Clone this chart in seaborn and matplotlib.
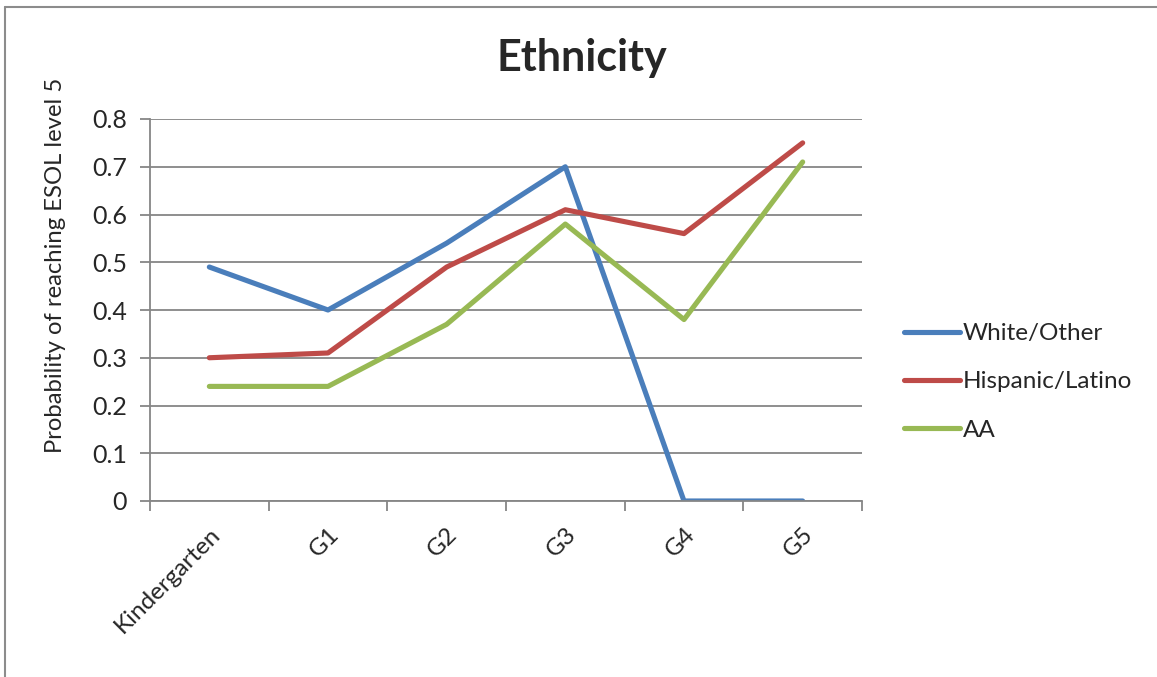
import matplotlib
matplotlib.use("Agg")
import matplotlib.pyplot as plt
from matplotlib.lines import Line2D
import seaborn as sns
import pandas as pd

grades = ["Kindergarten", "G1", "G2", "G3", "G4", "G5"]
white_other = [0.49, 0.40, 0.54, 0.70, 0.0, 0.0]
hispanic_latino = [0.30, 0.31, 0.49, 0.61, 0.56, 0.75]
aa = [0.24, 0.24, 0.37, 0.58, 0.38, 0.71]
series_names = ["White/Other", "Hispanic/Latino", "AA"]
y_ticks = [0, 0.1, 0.2, 0.3, 0.4, 0.5, 0.6, 0.7, 0.8]

colors = ["#4A7EBB", "#BE4B48", "#98B954"]
grid_color = "#868686"

rows = []
for name, vals in zip(series_names, [white_other, hispanic_latino, aa]):
    for g, v in zip(grades, vals):
        rows.append({"Grade": g, "Probability": v, "Group": name})
df = pd.DataFrame(rows)

sns.set_style("white")
plt.rcParams["font.family"] = ["Lato", "DejaVu Sans"]

fig = plt.figure(figsize=(11.57, 6.77), dpi=100)
W, H = 1157, 677
ax = fig.add_axes([150 / W, 1 - 501 / H, (862 - 150) / W, (501 - 119) / H])

sns.lineplot(data=df, x="Grade", y="Probability", hue="Group",
             hue_order=series_names, palette=colors, linewidth=3.7,
             sort=False, ax=ax, legend=True)
for ln in ax.lines:
    ln.set_solid_capstyle("round")
    ln.set_solid_joinstyle("round")

ax.set_xlim(-0.5, 5.5)
ax.set_ylim(0, 0.8)
ax.set_yticks(y_ticks)
ax.set_yticklabels(["0"] + [f"{t:.1f}" for t in y_ticks[1:]], fontsize=18)
ax.yaxis.grid(True, color=grid_color, linewidth=1.3)
ax.set_axisbelow(True)

ax.set_xticks(range(len(grades)))
ax.set_xticklabels(grades, rotation=45, ha="right", va="top",
                   rotation_mode="anchor", fontsize=17.5)
ax.tick_params(axis="x", which="major", length=0, pad=16)
ax.set_xticks([i - 0.5 for i in range(len(grades) + 1)], minor=True)
ax.tick_params(axis="x", which="minor", length=7, width=1.3,
               color=grid_color, direction="out", bottom=True)
ax.tick_params(axis="y", length=7, width=1.3, color=grid_color,
               direction="out", left=True, pad=9.5)

for side in ["top", "right"]:
    ax.spines[side].set_visible(False)
for side in ["left", "bottom"]:
    ax.spines[side].set_color(grid_color)
    ax.spines[side].set_linewidth(1.3)

ax.set_xlabel("")
ax.set_ylabel("Probability of reaching ESOL level 5", fontsize=17.2)
ax.yaxis.set_label_coords(-0.118, 0.618)

handles, labels = ax.get_legend_handles_labels()
ax.legend(handles, labels, loc="center left", bbox_to_anchor=(1.028, 0.312),
          frameon=False, fontsize=17.5, handlelength=2.3, handletextpad=0.12,
          labelspacing=1.12)

fig.text(582 / W, 1 - 58 / H, "Ethnicity", ha="center", va="center",
         fontsize=31, fontweight="bold")

# outer chart frame: only the top and left edges fall inside the image
fig.lines.append(Line2D([5.5 / W, 1.0], [1 - 6.5 / H, 1 - 6.5 / H],
                        transform=fig.transFigure, color="#8c8c8c", linewidth=1.5))
fig.lines.append(Line2D([5.5 / W, 5.5 / W], [0, 1 - 6.5 / H],
                        transform=fig.transFigure, color="#8c8c8c", linewidth=1.5))

fig.savefig("out.png", dpi=100)
